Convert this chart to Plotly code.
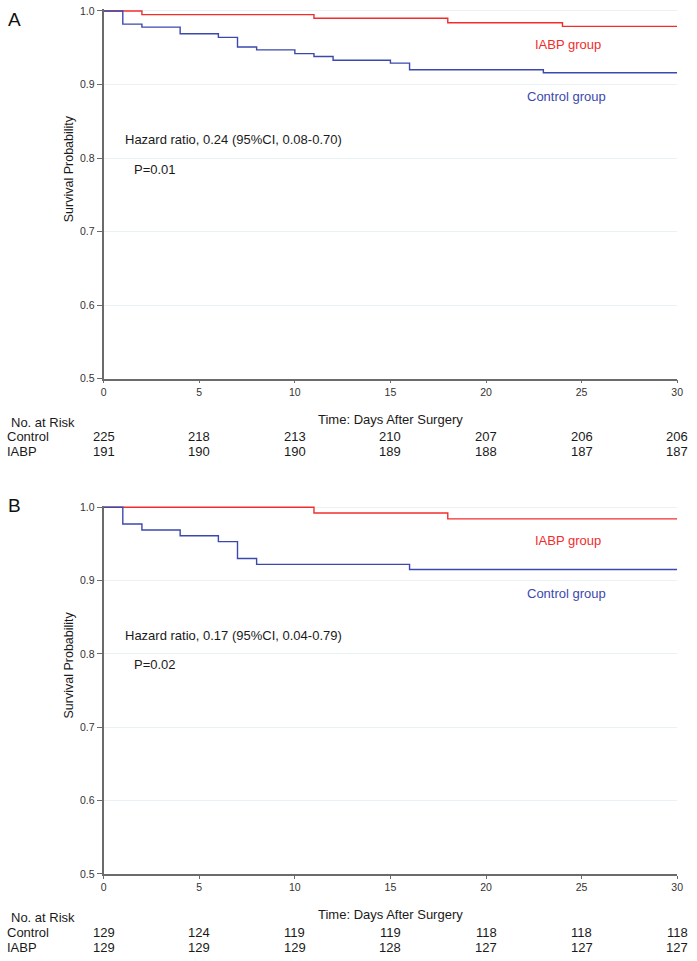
import plotly.graph_objects as go

# Panel A data
ctrl_a_t = [0, 1, 2, 4, 6, 7, 8, 10, 11, 12, 15, 16, 23, 30]
ctrl_a_s = [1.0, 0.982, 0.978, 0.969, 0.964, 0.951, 0.947, 0.942, 0.938, 0.933, 0.929, 0.920, 0.916, 0.916]
iabp_a_t = [0, 2, 11, 18, 24, 30]
iabp_a_s = [1.0, 0.995, 0.990, 0.984, 0.979, 0.979]

# Panel B data
ctrl_b_t = [0, 1, 2, 4, 6, 7, 8, 16, 30]
ctrl_b_s = [1.0, 0.977, 0.969, 0.961, 0.953, 0.930, 0.922, 0.915, 0.915]
iabp_b_t = [0, 11, 18, 30]
iabp_b_s = [1.0, 0.992, 0.984, 0.984]

# numbers at risk
risk_days = [0, 5, 10, 15, 20, 25, 30]
risk_ctrl_a = [225, 218, 213, 210, 207, 206, 206]
risk_iabp_a = [191, 190, 190, 189, 188, 187, 187]
risk_ctrl_b = [129, 124, 119, 119, 118, 118, 118]
risk_iabp_b = [129, 129, 129, 128, 127, 127, 127]

hr_a = "Hazard ratio, 0.24 (95%CI, 0.08-0.70)"
p_a = "P=0.01"
hr_b = "Hazard ratio, 0.17 (95%CI, 0.04-0.79)"
p_b = "P=0.02"

W, H = 697, 961
RED = "#f22c2c"
BLUE = "#3b48ad"
AX = "#6b6b6b"
TXT = "#1a1a1a"
FONT = "Liberation Sans, Arial"
YTOP = 1.002  # a hair above 1.0 so the flat top lines aren't clipped


def py(pix):
    return 1 - pix / H


fig = go.Figure()

panels = [
    dict(x="x", y="y", ct=ctrl_a_t, cs=ctrl_a_s, it=iabp_a_t, is_=iabp_a_s,
         top=6, bot=378, rc=risk_ctrl_a, ri=risk_iabp_a, hr=hr_a, p=p_a, letter="A", ly=15),
    dict(x="x2", y="y2", ct=ctrl_b_t, cs=ctrl_b_s, it=iabp_b_t, is_=iabp_b_s,
         top=508, bot=879, rc=risk_ctrl_b, ri=risk_iabp_b, hr=hr_b, p=p_b, letter="B", ly=506),
]

annotations = []
for pn in panels:
    fig.add_trace(go.Scatter(x=pn["it"], y=pn["is_"], mode="lines", line_shape="hv",
                             line=dict(color=RED, width=1.4), xaxis=pn["x"], yaxis=pn["y"],
                             showlegend=False, hoverinfo="skip"))
    fig.add_trace(go.Scatter(x=pn["ct"], y=pn["cs"], mode="lines", line_shape="hv",
                             line=dict(color=BLUE, width=1.4), xaxis=pn["x"], yaxis=pn["y"],
                             showlegend=False, hoverinfo="skip"))

    # in-plot labels
    annotations += [
        dict(x=24.3, y=0.954, xref=pn["x"], yref=pn["y"], text="IABP group", showarrow=False,
             xanchor="center", font=dict(color=RED, size=13, family=FONT)),
        dict(x=24.2, y=0.883, xref=pn["x"], yref=pn["y"], text="Control group", showarrow=False,
             xanchor="center", font=dict(color=BLUE, size=13, family=FONT)),
        dict(x=1.0, y=0.825, xref=pn["x"], yref=pn["y"], text=pn["hr"], showarrow=False,
             xanchor="left", font=dict(color=TXT, size=13, family=FONT)),
        dict(x=1.5, y=0.785, xref=pn["x"], yref=pn["y"], text=pn["p"], showarrow=False,
             xanchor="left", font=dict(color=TXT, size=13, family=FONT)),
    ]

    # panel letter and y title
    annotations.append(dict(x=3 / W, y=py(pn["ly"]), xref="paper", yref="paper", text=pn["letter"],
                            showarrow=False, xanchor="left", yanchor="middle",
                            font=dict(color="#111", size=19, family=FONT)))
    annotations.append(dict(x=67 / W, y=py(pn["top"] + 160), xref="paper", yref="paper",
                            text="Survival Probability", textangle=-90, showarrow=False,
                            xanchor="center", yanchor="middle",
                            font=dict(color=TXT, size=12.5, family=FONT)))

    # numbers-at-risk table
    b = pn["bot"]
    tf = dict(color=TXT, size=13, family=FONT)
    annotations.append(dict(x=6 / W, y=py(b + 44), xref="paper", yref="paper", text="No. at Risk",
                            showarrow=False, xanchor="left", yanchor="middle", font=tf))
    annotations.append(dict(x=15, y=py(b + 41), xref=pn["x"], yref="paper", text="Time: Days After Surgery",
                            showarrow=False, xanchor="center", yanchor="middle", font=tf))
    annotations.append(dict(x=2 / W, y=py(b + 59), xref="paper", yref="paper", text="Control",
                            showarrow=False, xanchor="left", yanchor="middle", font=tf))
    annotations.append(dict(x=2 / W, y=py(b + 74), xref="paper", yref="paper", text="IABP",
                            showarrow=False, xanchor="left", yanchor="middle", font=tf))
    for d, c, i in zip(risk_days, pn["rc"], pn["ri"]):
        annotations.append(dict(x=d, y=py(b + 59), xref=pn["x"], yref="paper", text=str(c),
                                showarrow=False, xanchor="center", yanchor="middle", font=tf))
        annotations.append(dict(x=d, y=py(b + 74), xref=pn["x"], yref="paper", text=str(i),
                                showarrow=False, xanchor="center", yanchor="middle", font=tf))

xdom = [102 / W, 683 / W]
xax = dict(domain=xdom, range=[0, 30], tickvals=[0, 5, 10, 15, 20, 25, 30], showgrid=False,
           zeroline=False, showline=True, linecolor=AX, linewidth=1.5, ticks="outside",
           ticklen=3, tickcolor=AX, tickwidth=1.3,
           tickfont=dict(size=10.5, color="#333", family=FONT))
yax = dict(range=[0.5, YTOP], tickvals=[0.5, 0.6, 0.7, 0.8, 0.9, 1.0],
           ticktext=["0.5", "0.6", "0.7", "0.8", "0.9", "1.0"],
           showgrid=True, gridcolor="#e9f1f5", gridwidth=1, zeroline=False, showline=True,
           linecolor=AX, linewidth=2, ticks="outside", ticklen=5, tickcolor=AX, tickwidth=1.3,
           tickfont=dict(size=10.5, color="#333", family=FONT))

# pixel height for one unit of survival, so the 0.5..1.0 span lands where the reference has it
a_unit = (378 - 6) / 0.5
b_unit = (879 - 508) / 0.5

fig.update_layout(
    width=W, height=H, margin=dict(l=0, r=0, t=0, b=0),
    paper_bgcolor="white", plot_bgcolor="white",
    xaxis=dict(xax, anchor="y"),
    yaxis=dict(yax, domain=[py(378), py(6 - (YTOP - 1) * a_unit)], anchor="x"),
    xaxis2=dict(xax, anchor="y2"),
    yaxis2=dict(yax, domain=[py(879), py(508 - (YTOP - 1) * b_unit)], anchor="x2"),
    annotations=annotations,
)

fig.write_html("out.html", config={"displayModeBar": False},
               post_script="document.body.style.margin='0';")
